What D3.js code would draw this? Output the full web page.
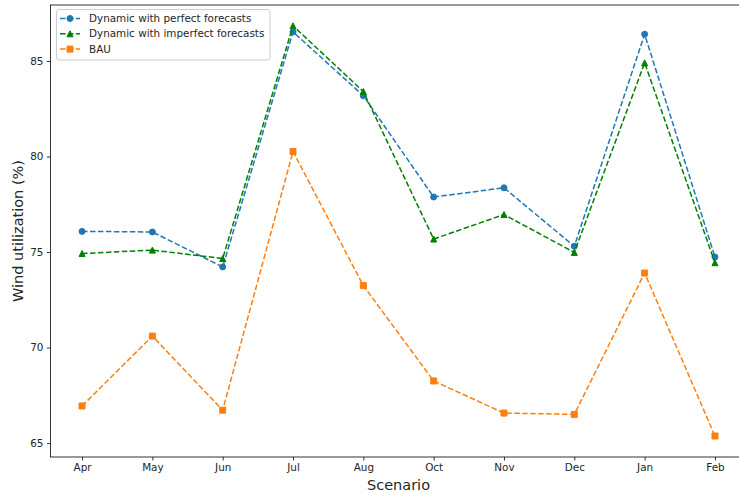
<!DOCTYPE html>
<html>
<head>
<meta charset="utf-8">
<script src="https://cdn.jsdelivr.net/npm/d3@7"></script>
<style>
  body { margin: 0; background: #fff; }
  svg { display: block; font-family: "DejaVu Sans", sans-serif; }
</style>
</head>
<body>
<svg id="chart" width="739" height="494"></svg>
<script>
const months = ['Apr', 'May', 'Jun', 'Jul', 'Aug', 'Oct', 'Nov', 'Dec', 'Jan', 'Feb']
const perfect = [76.08, 76.05, 74.22, 86.52, 83.18, 77.88, 78.36, 75.3, 86.4, 74.74]
const imperfect = [74.92, 75.1, 74.66, 86.84, 83.4, 75.68, 76.96, 74.98, 84.9, 74.44]
const bau = [66.94, 70.6, 66.72, 80.26, 73.24, 68.25, 66.57, 66.5, 73.9, 65.37]
const yTicks = [65, 70, 75, 80, 85]

const series = [
  { name: 'Dynamic with perfect forecasts', values: perfect, color: '#1f77b4', marker: 'circle' },
  { name: 'Dynamic with imperfect forecasts', values: imperfect, color: '#008000', marker: 'triangle' },
  { name: 'BAU', values: bau, color: '#ff7f0e', marker: 'square' },
]

const plot = { left: 50.4, right: 746.6, top: 5, bottom: 457 }
const tickFont = 10.4
const labelFont = 14.5

const svg = d3.select('#chart')

const x = d3.scalePoint().domain(months).range([plot.left, plot.right]).padding(0.45)
const y = d3.scaleLinear().domain([64.27, 87.93]).range([plot.bottom, plot.top])

// axes
const xAxis = svg.append('g')
  .attr('transform', `translate(0,${plot.bottom})`)
  .call(d3.axisBottom(x).tickSize(3.5).tickPadding(3.5).tickSizeOuter(0))
const yAxis = svg.append('g')
  .attr('transform', `translate(${plot.left},0)`)
  .call(d3.axisLeft(y).tickValues(yTicks).tickSize(3.5).tickPadding(3.5).tickSizeOuter(0))

;[xAxis, yAxis].forEach((a) => {
  a.select('.domain').remove()
  a.selectAll('.tick line').attr('stroke', '#000').attr('stroke-width', 0.8)
  a.selectAll('.tick text').attr('font-size', tickFont).attr('fill', '#262626')
    .attr('font-family', '"DejaVu Sans", sans-serif')
})

// spines
svg.append('rect')
  .attr('x', plot.left).attr('y', plot.top)
  .attr('width', plot.right - plot.left).attr('height', plot.bottom - plot.top)
  .attr('fill', 'none').attr('stroke', '#000').attr('stroke-width', 0.8)

// axis titles
svg.append('text')
  .attr('x', (plot.left + plot.right) / 2).attr('y', 490)
  .attr('text-anchor', 'middle').attr('font-size', labelFont).attr('fill', '#262626')
  .text('Scenario')
svg.append('text')
  .attr('transform', `translate(23,${(plot.top + plot.bottom) / 2}) rotate(-90)`)
  .attr('text-anchor', 'middle').attr('font-size', labelFont).attr('fill', '#262626')
  .text('Wind utilization (%)')

const symbols = {
  circle: d3.symbol().type(d3.symbolCircle).size(Math.PI * 9),
  square: d3.symbol().type(d3.symbolSquare).size(36),
}
function markerPath(kind) {
  if (kind === 'triangle') return 'M0,-3L3,3L-3,3Z'
  return symbols[kind]()
}

const line = d3.line().x((d, i) => x(months[i])).y((d) => y(d))

const chart = svg.append('g').attr('id', 'viz')
series.forEach((s) => {
  const g = chart.append('g')
  g.append('path')
    .attr('d', line(s.values))
    .attr('fill', 'none')
    .attr('stroke', s.color)
    .attr('stroke-width', 1.5)
    .attr('stroke-dasharray', '5.55,2.4')
  g.selectAll('path.mark')
    .data(s.values)
    .join('path')
    .attr('class', 'mark')
    .attr('d', markerPath(s.marker))
    .attr('transform', (d, i) => `translate(${x(months[i])},${y(d)})`)
    .attr('fill', s.color)
    .attr('stroke', s.color)
    .attr('stroke-width', 1)
})

// legend
const legend = svg.append('g').attr('id', 'legend')
legend.append('rect')
  .attr('x', 56.5).attr('y', 9.5).attr('width', 213.5).attr('height', 50.5)
  .attr('rx', 2.5)
  .attr('fill', '#fff').attr('fill-opacity', 0.8)
  .attr('stroke', '#ccc').attr('stroke-width', 1)
series.forEach((s, i) => {
  const cy = 18.5 + i * 15.3
  const row = legend.append('g').attr('transform', `translate(0,${cy})`)
  row.append('line')
    .attr('x1', 60).attr('x2', 80).attr('y1', 0).attr('y2', 0)
    .attr('stroke', s.color).attr('stroke-width', 1.5)
    .attr('stroke-dasharray', '5.55,2.4')
  row.append('path')
    .attr('d', markerPath(s.marker))
    .attr('transform', 'translate(70,0)')
    .attr('fill', s.color).attr('stroke', s.color).attr('stroke-width', 1)
  row.append('text')
    .attr('x', 89).attr('y', 0).attr('dy', '0.35em')
    .attr('font-size', tickFont).attr('fill', '#262626')
    .text(s.name)
})
</script>
</body>
</html>
